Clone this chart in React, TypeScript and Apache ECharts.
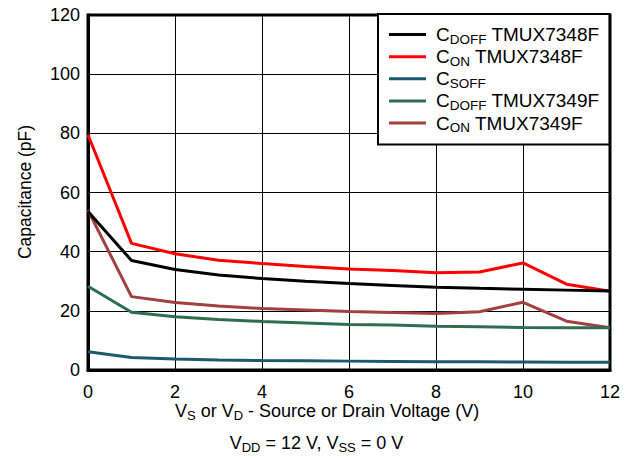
import React, { useEffect, useRef } from "react";
import * as echarts from "echarts";

const voltages = [0, 1, 2, 3, 4, 5, 6, 7, 8, 9, 10, 11, 12];
const cdoff7348 = [53.6, 37, 34, 32.1, 30.9, 30, 29.2, 28.6, 28, 27.6, 27.3, 27, 26.7];
const con7348 = [79.5, 42.8, 39.3, 37.1, 36, 35, 34.1, 33.6, 32.9, 33.1, 36.2, 29, 26.6];
const csoff = [6.2, 4.2, 3.7, 3.4, 3.2, 3.1, 3.0, 2.9, 2.8, 2.8, 2.7, 2.6, 2.6];
const cdoff7349 = [28.3, 19.5, 18, 17.1, 16.4, 15.9, 15.4, 15.2, 14.8, 14.6, 14.4, 14.3, 14.3];
const con7349 = [54, 24.8, 22.8, 21.6, 20.8, 20.3, 19.8, 19.4, 19.1, 19.7, 22.9, 16.5, 14.3];

const seriesNames = ["cdoff48", "con48", "csoff", "cdoff49", "con49"];
const seriesLabels: Record<string, string> = {
  cdoff48: "{m|C}{s|DOFF}{m| TMUX7348F}",
  con48: "{m|C}{s|ON}{m| TMUX7348F}",
  csoff: "{m|C}{s|SOFF}",
  cdoff49: "{m|C}{s|DOFF}{m| TMUX7349F}",
  con49: "{m|C}{s|ON}{m| TMUX7349F}",
};
const seriesColors = ["#000000", "#ff0000", "#1b5a6d", "#2e6e4f", "#a23f3f"];
const seriesData = [cdoff7348, con7348, csoff, cdoff7349, con7349];

const FONT = "Liberation Sans, Arial, sans-serif";

export default function App() {
  const ref = useRef<HTMLDivElement>(null);
  useEffect(() => {
    if (!ref.current) return;
    const chart = echarts.init(ref.current, undefined, { renderer: "svg" });
    const richText = {
      m: { fontSize: 18, fontFamily: FONT, color: "#000", fontWeight: "normal" },
      s: { fontSize: 13, fontFamily: FONT, color: "#000", fontWeight: "normal", padding: [9, 0, 0, 0] },
    };
    chart.setOption({
      animation: false,
      textStyle: { fontFamily: FONT },
      grid: {
        left: 88,
        right: 23,
        top: 15,
        bottom: 90,
        show: true,
        borderColor: "#000",
        borderWidth: 3,
        backgroundColor: "transparent",
      },
      xAxis: {
        type: "value",
        min: 0,
        max: 12,
        interval: 2,
        axisLine: { show: true, lineStyle: { color: "#000", width: 3 } },
        axisTick: { show: false },
        splitLine: { show: true, lineStyle: { color: "#000", width: 1 } },
        axisLabel: { fontSize: 18, color: "#000", margin: 13, fontFamily: FONT },
      },
      yAxis: {
        type: "value",
        min: 0,
        max: 120,
        interval: 20,
        axisLine: { show: true, lineStyle: { color: "#000", width: 3 } },
        axisTick: { show: false },
        splitLine: { show: true, lineStyle: { color: "#000", width: 1 } },
        axisLabel: { fontSize: 18, color: "#000", margin: 8, fontFamily: FONT },
      },
      graphic: [
        {
          type: "text",
          x: 25,
          y: 192,
          rotation: Math.PI / 2,
          style: {
            text: "Capacitance (pF)",
            fontSize: 17.5,
            fontFamily: FONT,
            fill: "#000",
            align: "center",
            verticalAlign: "middle",
          },
        },
      ],
      title: [
        {
          text: "{m|V}{s|S}{m| or V}{s|D}{m| - Source or Drain Voltage (V)}",
          left: 175,
          top: 400,
          textStyle: { rich: richText },
          padding: 0,
        },
        {
          text: "{m|V}{s|DD}{m| = 12 V, V}{s|SS}{m| = 0 V}",
          left: "center",
          top: 432,
          textStyle: { rich: richText },
          padding: 0,
        },
      ],
      legend: {
        orient: "vertical",
        left: 378,
        top: 14,
        padding: [10, 10, 10, 11],
        backgroundColor: "#fff",
        borderColor: "#000",
        borderWidth: 2,
        borderRadius: 0,
        itemGap: 0,
        itemWidth: 37,
        itemHeight: 3,
        icon: "rect",
        data: seriesNames,
        formatter: (name: string) => seriesLabels[name],
        textStyle: {
          lineHeight: 21.2,
          padding: [0, 0, 0, 5],
          rich: {
            m: { fontSize: 19, fontFamily: FONT, color: "#000", lineHeight: 21.2 },
            s: { fontSize: 13.5, fontFamily: FONT, color: "#000", padding: [9, 0, 0, 0] },
          },
        },
      },
      series: seriesNames.map((name, i) => ({
        name,
        type: "line",
        data: voltages.map((v, j) => [v, seriesData[i][j]]),
        showSymbol: false,
        symbol: "none",
        color: seriesColors[i],
        lineStyle: { color: seriesColors[i], width: 3 },
        z: 10 - i,
      })),
    });
    return () => chart.dispose();
  }, []);
  return <div ref={ref} style={{ width: 633, height: 460, margin: -8 }} />;
}
